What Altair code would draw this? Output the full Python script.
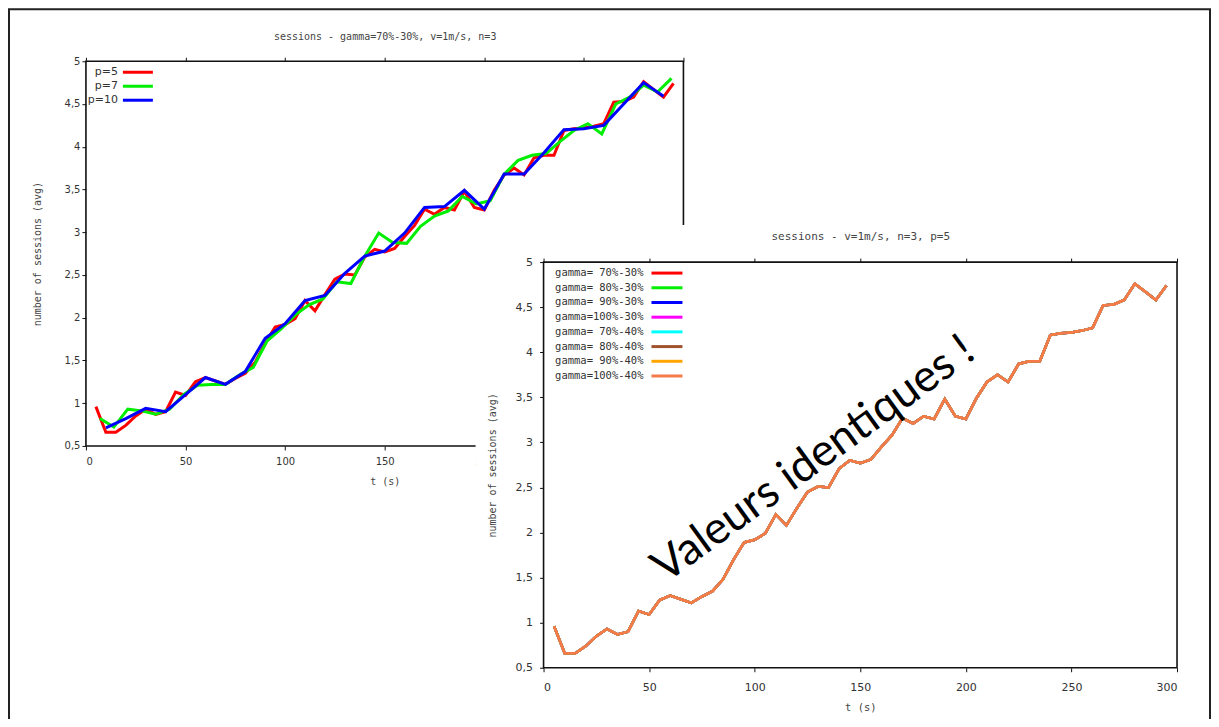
import altair as alt
import pandas as pd

# ---------------- data ----------------
t_p5 = [5, 10, 15, 20, 25, 30, 35, 40, 45, 50, 55, 60, 65, 70, 75, 80, 85, 90, 95, 100,
        105, 110, 115, 120, 125, 130, 135, 140, 145, 150, 155, 160, 165, 170, 175, 180,
        185, 190, 195, 200, 205, 210, 215, 220, 225, 230, 235, 240, 245, 250, 255, 260,
        265, 270, 275, 280, 285, 290, 295]
v_p5 = [0.96, 0.66, 0.66, 0.74, 0.85, 0.93, 0.87, 0.90, 1.13, 1.09, 1.25, 1.30, 1.26, 1.22,
        1.29, 1.35, 1.48, 1.70, 1.89, 1.92, 1.99, 2.20, 2.08, 2.27, 2.45, 2.51, 2.50, 2.71,
        2.80, 2.77, 2.81, 2.95, 3.08, 3.27, 3.21, 3.29, 3.26, 3.48, 3.29, 3.26, 3.49, 3.67,
        3.75, 3.67, 3.87, 3.90, 3.90, 4.19, 4.21, 4.22, 4.24, 4.27, 4.52, 4.53, 4.58, 4.76,
        4.67, 4.58, 4.74]

t_p7 = [7, 14, 21, 28, 35, 42, 49, 56, 63, 70, 77, 84, 91, 98, 105, 112, 119, 126, 133, 140,
        147, 154, 161, 168, 175, 182, 189, 196, 203, 210, 217, 224, 231, 238, 245, 252, 259,
        266, 273, 280, 287, 294]
v_p7 = [0.82, 0.72, 0.93, 0.91, 0.87, 0.93, 1.10, 1.21, 1.22, 1.22, 1.33, 1.42, 1.73, 1.87,
        2.03, 2.15, 2.22, 2.42, 2.40, 2.72, 2.99, 2.88, 2.87, 3.07, 3.19, 3.25, 3.42, 3.33,
        3.37, 3.68, 3.84, 3.90, 3.92, 4.06, 4.19, 4.27, 4.15, 4.50, 4.58, 4.72, 4.64, 4.80]

t_p10 = [10, 20, 30, 40, 50, 60, 70, 80, 90, 100, 110, 120, 130, 140, 150, 160, 170, 180,
         190, 200, 210, 220, 230, 240, 250, 260, 270, 280, 290]
v_p10 = [0.71, 0.82, 0.94, 0.90, 1.10, 1.30, 1.22, 1.37, 1.76, 1.93, 2.20, 2.26, 2.52, 2.72,
         2.78, 2.99, 3.29, 3.30, 3.49, 3.27, 3.68, 3.68, 3.93, 4.20, 4.21, 4.25, 4.50, 4.75,
         4.59]

series1 = ["p=5", "p=7", "p=10"]
colors1 = ["#ff0000", "#00ee00", "#0000ff"]

# chart 2: all gamma settings give identical values (same as p=5 above)
series2 = ["gamma= 70%-30%", "gamma= 80%-30%", "gamma= 90%-30%", "gamma=100%-30%",
           "gamma= 70%-40%", "gamma= 80%-40%", "gamma= 90%-40%", "gamma=100%-40%"]
colors2 = ["#ff0000", "#00ee00", "#0000ff", "#ff00ff", "#00ffff", "#a0522d",
           "#ffa500", "#f47a4a"]

x_ticks = [0, 50, 100, 150, 200, 250, 300]
y_ticks = [0.5, 1, 1.5, 2, 2.5, 3, 3.5, 4, 4.5, 5]

title1 = "sessions - gamma=70%-30%, v=1m/s, n=3"
title2 = "sessions - v=1m/s, n=3, p=5"
note = "Valeurs identiques !"

# ---------------- tables ----------------
df1 = pd.concat([
    pd.DataFrame({"t": t_p5, "v": v_p5, "s": series1[0]}),
    pd.DataFrame({"t": t_p7, "v": v_p7, "s": series1[1]}),
    pd.DataFrame({"t": t_p10, "v": v_p10, "s": series1[2]}),
], ignore_index=True)
df2 = pd.concat([pd.DataFrame({"t": t_p5, "v": v_p5, "s": s}) for s in series2],
                ignore_index=True)
keys1 = pd.DataFrame({"s": series1})
keys2 = pd.DataFrame({"s": series2})
one = pd.DataFrame({"k": [0]})

# ---------------- layout ----------------
W, H = 1204, 711
c1x, c1y = [78, 676], [438, 53]
c2x, c2y = [536, 1170], [660, 254]
key1_rows, key2_rows = [64, 92], [265, 368]

MONO = "DejaVu Sans Mono"
SANS = "DejaVu Sans"
lab = "replace(datum.label, '.', ',')"


def xs(r):
    return alt.Scale(domain=[0, 300], range=r, nice=False, zero=False)


def ys(r):
    return alt.Scale(domain=[0.5, 5], range=r, nice=False, zero=False)


def key_layers(keys, series, colors, rows, text_x, line_x, line_x2, font, size, width):
    """gnuplot-style key: label on the left, line sample on the right"""
    def yk():
        return alt.Y("s:N", scale=alt.Scale(type="point", domain=series, range=rows,
                                            padding=0), axis=None)
    ck = alt.Color("s:N", scale=alt.Scale(domain=series, range=colors), legend=None)
    rule = alt.Chart(keys).mark_rule(strokeWidth=width).encode(
        x=alt.value(line_x), x2=alt.value(line_x2), y=yk(), color=ck)
    text = alt.Chart(keys).mark_text(align="right", baseline="middle", font=font,
                                     fontSize=size, color="#333").encode(
        x=alt.value(text_x), y=yk(), text="s:N")
    return rule, text


slide = alt.Chart(one).mark_rect(filled=False, stroke="#222", strokeWidth=2).encode(
    x=alt.value(1), x2=alt.value(W - 1), y=alt.value(1), y2=alt.value(H + 40))

# ---------- chart 1 ----------
frame1 = alt.Chart(one).mark_rect(filled=False, stroke="#111", strokeWidth=1.6).encode(
    x=alt.XDatum(0, type="quantitative", scale=xs(c1x),
                 axis=alt.Axis(orient="top", offset=-c1y[1], values=x_ticks, labels=False,
                               ticks=True, tickSize=4, tickColor="#111", domain=False,
                               grid=False, title=title1, titleFont=MONO, titleFontSize=10,
                               titleFontWeight="normal", titleColor="#444", titlePadding=15,
                               zindex=0)),
    x2=alt.X2Datum(300),
    y=alt.YDatum(0.5, type="quantitative", scale=ys(c1y), axis=None),
    y2=alt.Y2Datum(5),
)

lines1 = alt.Chart(df1).mark_line(strokeWidth=3).encode(
    x=alt.X("t:Q", scale=xs(c1x),
            axis=alt.Axis(orient="bottom", offset=-(H - c1y[0]), values=x_ticks, format="d",
                          tickSize=4, tickColor="#111", domain=False, grid=False,
                          labelFont=SANS, labelFontSize=10, labelColor="#333",
                          labelPadding=7, title="t (s)", titleFont=MONO, titleFontSize=10,
                          titleFontWeight="normal", titleColor="#444", titlePadding=10,
                          zindex=0)),
    y=alt.Y("v:Q", scale=ys(c1y),
            axis=alt.Axis(orient="left", offset=-c1x[0], values=y_ticks, format=".1~f",
                          labelExpr=lab, tickSize=4, tickColor="#111", domain=False,
                          grid=False, labelFont=SANS, labelFontSize=10, labelColor="#333",
                          labelPadding=2, title="number of sessions (avg)", titleFont=MONO,
                          titleFontSize=10, titleFontWeight="normal", titleColor="#444",
                          titlePadding=22, zindex=0)),
    color=alt.Color("s:N", sort=series1, scale=alt.Scale(domain=series1, range=colors1),
                    legend=None),
)
key1_rule, key1_text = key_layers(keys1, series1, colors1, key1_rows, 110, 115, 145,
                                  SANS, 11, 3)

# ---------- chart 2 ----------
panel2 = alt.Chart(one).mark_rect(fill="white", strokeWidth=0).encode(
    x=alt.value(468), x2=alt.value(W - 4), y=alt.value(217), y2=alt.value(H))

frame2 = alt.Chart(one).mark_rect(filled=False, stroke="#111", strokeWidth=1.6).encode(
    x=alt.XDatum(0, type="quantitative", scale=xs(c2x),
                 axis=alt.Axis(orient="top", offset=-c2y[1], values=x_ticks, labels=False,
                               ticks=True, tickSize=4, tickColor="#111", domain=False,
                               grid=False, title=title2, titleFont=MONO, titleFontSize=11,
                               titleFontWeight="normal", titleColor="#444", titlePadding=16,
                               zindex=1)),
    x2=alt.X2Datum(300),
    y=alt.YDatum(0.5, type="quantitative", scale=ys(c2y), axis=None),
    y2=alt.Y2Datum(5),
)

lines2 = alt.Chart(df2).mark_line(strokeWidth=2.5).encode(
    x=alt.X("t:Q", scale=xs(c2x),
            axis=alt.Axis(orient="bottom", offset=-(H - c2y[0]), values=x_ticks, format="d",
                          tickSize=4, tickColor="#111", domain=False, grid=False,
                          labelFont=SANS, labelFontSize=11, labelColor="#333",
                          labelPadding=10, title="t (s)", titleFont=MONO,
                          titleFontSize=10.5, titleFontWeight="normal", titleColor="#444",
                          titlePadding=10, zindex=1)),
    y=alt.Y("v:Q", scale=ys(c2y),
            axis=alt.Axis(orient="left", offset=-c2x[0], values=y_ticks, format=".1~f",
                          labelExpr=lab, tickSize=4, tickColor="#111", domain=False,
                          grid=False, labelFont=SANS, labelFontSize=11, labelColor="#333",
                          labelPadding=7, title="number of sessions (avg)", titleFont=MONO,
                          titleFontSize=10, titleFontWeight="normal", titleColor="#444",
                          titlePadding=18, zindex=1)),
    color=alt.Color("s:N", sort=series2, scale=alt.Scale(domain=series2, range=colors2),
                    legend=None),
)
key2_rule, key2_text = key_layers(keys2, series2, colors2, key2_rows, 636, 644, 675,
                                  MONO, 10.5, 3)

annot = alt.Chart(one).mark_text(text=note, angle=324, font="Lato", fontSize=45,
                                 color="black", align="center", baseline="middle").encode(
    x=alt.value(806), y=alt.value(451))

chart = alt.layer(
    slide, frame1, lines1, key1_rule, key1_text,
    panel2, frame2, lines2, key2_rule, key2_text, annot
).resolve_scale(
    x="independent", y="independent", color="independent"
).resolve_axis(x="independent", y="independent").resolve_legend(
    color="independent"
).properties(
    width=W, height=H, padding=0, autosize=alt.AutoSizeParams(type="none")
).configure_view(stroke=None)

chart.save("out.html", embed_options={"renderer": "svg", "actions": False})
